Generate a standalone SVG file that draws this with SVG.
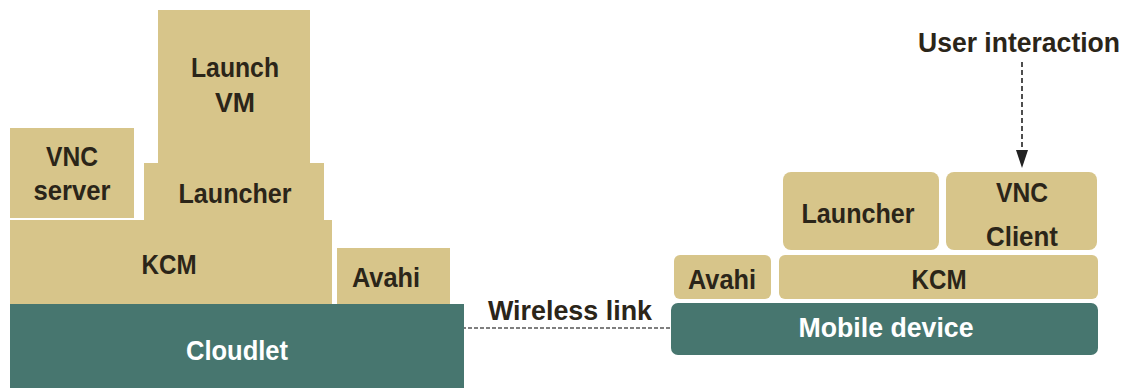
<svg xmlns="http://www.w3.org/2000/svg" width="1130" height="388" viewBox="0 0 1130 388">
<defs>
<style>
.tan{fill:#d7c58a}
.teal{fill:#47766f}
.t{font-family:"Liberation Sans",Arial,sans-serif;font-weight:bold;font-size:28px;fill:#2b2519;text-anchor:middle}
.w{fill:#ffffff}
.dash{stroke:#555;stroke-width:1.3;stroke-dasharray:4 2;fill:none}
.arr{stroke:#222;stroke-width:1.6;stroke-dasharray:5 3;fill:none}
</style>
</defs>
<rect width="1130" height="388" fill="#ffffff"/>

<g id="connectors">
<line class="dash" x1="462" y1="328" x2="672" y2="328"/>
<line x1="1022" y1="62" x2="1022" y2="152" class="arr"/>
<path d="M1016,150 L1028,150 L1022,168 Z" fill="#222"/>
</g>

<g id="launchvm"><rect class="tan" x="158" y="10" width="152" height="155"/>
<text class="t" x="235" y="77" textLength="88" lengthAdjust="spacingAndGlyphs">Launch</text>
<text class="t" x="235" y="112" textLength="40" lengthAdjust="spacingAndGlyphs">VM</text></g>

<g id="vncserver"><rect class="tan" x="10" y="128" width="124" height="90"/>
<text class="t" x="72" y="166" textLength="52" lengthAdjust="spacingAndGlyphs">VNC</text>
<text class="t" x="72" y="200" textLength="77" lengthAdjust="spacingAndGlyphs">server</text></g>

<g id="launcher-left"><rect class="tan" x="144" y="163" width="180" height="58"/>
<text class="t" x="235" y="203" textLength="113" lengthAdjust="spacingAndGlyphs">Launcher</text></g>

<g id="kcm-left"><rect class="tan" x="10" y="220" width="322" height="85"/>
<text class="t" x="169" y="274" textLength="55" lengthAdjust="spacingAndGlyphs">KCM</text></g>

<g id="avahi-left"><rect class="tan" x="337" y="248" width="113" height="57"/>
<text class="t" x="386" y="287" textLength="68" lengthAdjust="spacingAndGlyphs">Avahi</text></g>

<g id="cloudlet"><rect class="teal" x="10" y="304" width="454" height="84"/>
<text class="t w" x="237" y="360" textLength="102" lengthAdjust="spacingAndGlyphs">Cloudlet</text></g>

<g id="wireless"><text class="t" x="570" y="320" textLength="164" lengthAdjust="spacingAndGlyphs">Wireless link</text></g>

<g id="user"><text class="t" x="1019" y="52" textLength="202" lengthAdjust="spacingAndGlyphs">User interaction</text></g>

<g id="launcher-right"><rect class="tan" x="783" y="172" width="156" height="78" rx="8"/>
<text class="t" x="858" y="223" textLength="113" lengthAdjust="spacingAndGlyphs">Launcher</text></g>

<g id="vncclient"><rect class="tan" x="946" y="172" width="151" height="78" rx="8"/>
<text class="t" x="1022" y="202" textLength="52" lengthAdjust="spacingAndGlyphs">VNC</text>
<text class="t" x="1022" y="246" textLength="72" lengthAdjust="spacingAndGlyphs">Client</text></g>

<g id="avahi-right"><rect class="tan" x="674" y="255" width="97" height="44" rx="6"/>
<text class="t" x="722" y="289" textLength="68" lengthAdjust="spacingAndGlyphs">Avahi</text></g>

<g id="kcm-right"><rect class="tan" x="779" y="255" width="319" height="44" rx="6"/>
<text class="t" x="939" y="289" textLength="55" lengthAdjust="spacingAndGlyphs">KCM</text></g>

<g id="mobile"><rect class="teal" x="671" y="303" width="427" height="52" rx="7"/>
<text class="t w" x="886" y="337" textLength="175" lengthAdjust="spacingAndGlyphs">Mobile device</text></g>
</svg>
